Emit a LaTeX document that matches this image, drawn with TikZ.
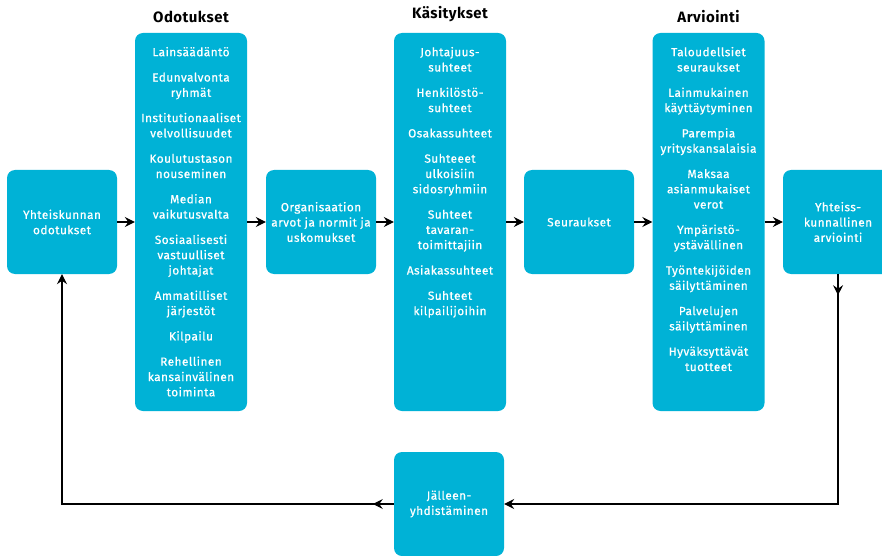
\documentclass[tikz,border=0pt]{standalone}
\usepackage{fontspec}
\setmainfont{Fira Sans}
\newfontfamily\boxfont[FakeBold=0.7, LetterSpace=4]{Fira Sans}
\newfontfamily\headfont[LetterSpace=3]{Fira Sans}
\usetikzlibrary{arrows.meta, positioning}
\definecolor{boxblue}{RGB}{0,178,214}

\begin{document}
\begin{tikzpicture}[x=1pt, y=1pt,
    box/.style={fill=boxblue, rounded corners=8pt, minimum width=110pt, minimum height=104pt, inner sep=0pt, text=white, align=center, font=\boxfont\fontsize{11.8}{15.3}\selectfont},
    col/.style={fill=boxblue, rounded corners=8pt, minimum width=112pt, minimum height=378pt, inner sep=0pt},
    items/.style={text=white, align=center, inner sep=0pt, font=\boxfont\fontsize{11.8}{15.3}\selectfont},
    header/.style={font=\headfont\fontsize{15}{17}\selectfont\bfseries},
    arr/.style={-{Stealth[length=10pt, width=10pt, inset=3.5pt]}, line width=1.1pt}
]
\useasboundingbox (0,0) rectangle (882,555);

% Main row
\node[box] (ysoc) at (62,333) {Yhteiskunnan\\odotukset};
\node[col] (odo) at (191,333) {};
\node[box] (org) at (321,333) {Organisaation\\arvot ja normit ja\\uskomukset};
\node[col] (kas) at (450,333) {};
\node[box] (seur) at (579,333) {Seuraukset};
\node[col] (arv) at (708.5,333) {};
\node[box] (yarv) at (838,333) {Yhteiss-\\kunnallinen\\arviointi};
\node[box] (jall) at (449,51) {Jälleen-\\yhdistäminen};

% Column headers
\node[header, above=7pt of odo.north] (h1) {Odotukset};
\node[header, above=7pt of kas.north] (h2) {Käsitykset};
\node[header, above=7pt of arv.north] (h3) {Arviointi};

% Column contents
\node[items, below=14pt of odo.north] (odolist) {Lainsäädäntö\\[10pt]
    Edunvalvonta\\ryhmät\\[10pt]
    Institutionaaliset\\velvollisuudet\\[10pt]
    Koulutustason\\nouseminen\\[10pt]
    Median\\vaikutusvalta\\[10pt]
    Sosiaalisesti\\vastuulliset\\johtajat\\[10pt]
    Ammatilliset\\järjestöt\\[10pt]
    Kilpailu\\[10pt]
    Rehellinen\\kansainvälinen\\toiminta};
\node[items, below=14pt of kas.north] (kaslist) {Johtajuus-\\suhteet\\[10pt]
    Henkilöstö-\\suhteet\\[10pt]
    Osakassuhteet\\[10pt]
    Suhteeet\\ulkoisiin\\sidosryhmiin\\[10pt]
    Suhteet\\tavaran-\\toimittajiin\\[10pt]
    Asiakassuhteet\\[10pt]
    Suhteet\\kilpailijoihin};
\node[items, below=14pt of arv.north] (arvlist) {Taloudellsiet\\seuraukset\\[10pt]
    Lainmukainen\\käyttäytyminen\\[10pt]
    Parempia\\yrityskansalaisia\\[10pt]
    Maksaa\\asianmukaiset\\verot\\[10pt]
    Ympäristö-\\ystävällinen\\[10pt]
    Työntekijöiden\\säilyttäminen\\[10pt]
    Palvelujen\\säilyttäminen\\[10pt]
    Hyväksyttävät\\tuotteet};

% Arrows along the row
\draw[arr] (ysoc) -- (odo);
\draw[arr] (odo) -- (org);
\draw[arr] (org) -- (kas);
\draw[arr] (kas) -- (seur);
\draw[arr] (seur) -- (arv);
\draw[arr] (arv) -- (yarv);

% Feedback loop
\coordinate[below=21pt of yarv.south] (downtip);
\coordinate[left=21pt of jall.west] (lefttip);
\draw[arr] (yarv.south) -- (downtip);
\draw[arr] (yarv.south) |- (jall.east);
\draw[arr] (jall.west) -- (lefttip);
\draw[arr] (jall.west) -| (ysoc.south);

\end{tikzpicture}
\end{document}
